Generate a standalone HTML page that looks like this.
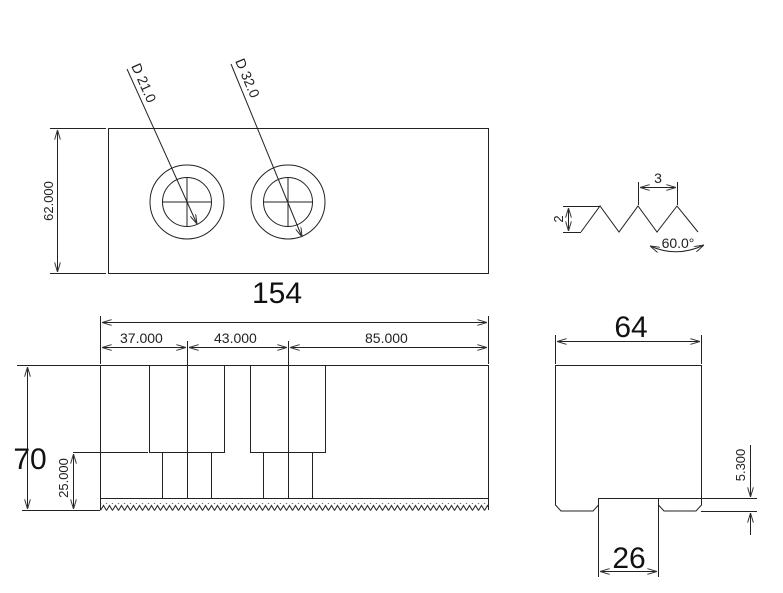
<!DOCTYPE html>
<html><head><meta charset="utf-8"><style>body{margin:0;background:#fff}svg{display:block}</style></head><body>
<svg width="783" height="593" viewBox="0 0 783 593" xmlns="http://www.w3.org/2000/svg" font-family="Liberation Sans, sans-serif">
<defs>
<marker id="a" viewBox="0 0 10 6" refX="10" refY="3" markerWidth="10" markerHeight="6" orient="auto-start-reverse" markerUnits="userSpaceOnUse"><path d="M0,0L10,3L0,6" fill="none" stroke="#333" stroke-width="1"/></marker>
<pattern id="t" x="100.5" y="504" width="6" height="7" patternUnits="userSpaceOnUse"><path d="M0,6.5 L3,1.5 L6,6.5" fill="none" stroke="#222" stroke-width="1"/></pattern>
</defs>
<rect x="100.5" y="503" width="388" height="8" fill="url(#t)"/>
<g stroke="#222" stroke-width="1" fill="none">
<!-- top view -->
<rect x="108.5" y="128.5" width="380" height="145"/>
<line x1="50" y1="128.5" x2="106" y2="128.5"/>
<line x1="50" y1="273.5" x2="106" y2="273.5"/>
<line x1="57.5" y1="130" x2="57.5" y2="272" marker-start="url(#a)" marker-end="url(#a)"/>
<circle cx="187" cy="202" r="37"/><circle cx="187" cy="202" r="24.5"/>
<line x1="162" y1="202" x2="212" y2="202"/><line x1="187" y1="177" x2="187" y2="227"/>
<circle cx="288" cy="202" r="37"/><circle cx="288" cy="202" r="24.5"/>
<line x1="263" y1="202" x2="313" y2="202"/><line x1="288" y1="177" x2="288" y2="227"/>
<line x1="127" y1="69" x2="197" y2="224" marker-end="url(#a)"/>
<line x1="231" y1="64" x2="302" y2="237" marker-end="url(#a)"/>
<!-- front view -->
<rect x="100.5" y="365.5" width="388" height="133"/>
<rect x="149.5" y="365.5" width="75" height="87"/>
<rect x="250.5" y="365.5" width="75" height="87"/>
<line x1="162.5" y1="452" x2="162.5" y2="498"/><line x1="211.5" y1="452" x2="211.5" y2="498"/>
<line x1="263.5" y1="452" x2="263.5" y2="498"/><line x1="312.5" y1="452" x2="312.5" y2="498"/>
<line x1="187.5" y1="341" x2="187.5" y2="498"/><line x1="288.5" y1="341" x2="288.5" y2="498"/>
<line x1="100.5" y1="498" x2="100.5" y2="510"/>
<line x1="488.5" y1="498" x2="488.5" y2="510"/>
<line x1="100.5" y1="316" x2="100.5" y2="364"/><line x1="488.5" y1="316" x2="488.5" y2="364"/>
<line x1="102" y1="322.5" x2="487" y2="322.5" marker-start="url(#a)" marker-end="url(#a)"/>
<line x1="102" y1="347.5" x2="186" y2="347.5" marker-start="url(#a)" marker-end="url(#a)"/>
<line x1="189" y1="347.5" x2="287" y2="347.5" marker-start="url(#a)" marker-end="url(#a)"/>
<line x1="290" y1="347.5" x2="487" y2="347.5" marker-start="url(#a)" marker-end="url(#a)"/>
<line x1="17" y1="365.5" x2="100" y2="365.5"/>
<line x1="22" y1="510.5" x2="100" y2="510.5"/>
<line x1="73" y1="452.5" x2="148" y2="452.5"/>
<line x1="27.5" y1="367" x2="27.5" y2="509" marker-start="url(#a)" marker-end="url(#a)"/>
<line x1="73.5" y1="454" x2="73.5" y2="509" marker-start="url(#a)" marker-end="url(#a)"/>
<!-- side view -->
<path d="M555.5,365.5 H701.5 V505 L696,511 H664 L658.5,505 V498.5 H598.5 V505 L593,511 H561 L555.5,505 Z"/>
<line x1="598.5" y1="498" x2="598.5" y2="577"/><line x1="658.5" y1="498" x2="658.5" y2="577"/>
<line x1="555.5" y1="335" x2="555.5" y2="364"/><line x1="701.5" y1="335" x2="701.5" y2="364"/>
<line x1="557" y1="341.5" x2="700" y2="341.5" marker-start="url(#a)" marker-end="url(#a)"/>
<line x1="600" y1="571.5" x2="657" y2="571.5" marker-start="url(#a)" marker-end="url(#a)"/>
<line x1="659" y1="498.5" x2="757" y2="498.5"/><line x1="701" y1="511.5" x2="757" y2="511.5"/>
<line x1="750.5" y1="445" x2="750.5" y2="497" marker-end="url(#a)"/>
<line x1="750.5" y1="535" x2="750.5" y2="513" marker-end="url(#a)"/>
<!-- thread -->
<polyline points="581,232 600,206 619,232 638,206 657,232 677,206 698,232"/>
<line x1="563" y1="206.5" x2="600" y2="206.5"/><line x1="563" y1="232.5" x2="581" y2="232.5"/>
<line x1="568.5" y1="208" x2="568.5" y2="231" marker-start="url(#a)" marker-end="url(#a)"/>
<line x1="638.5" y1="182" x2="638.5" y2="205"/><line x1="677.5" y1="182" x2="677.5" y2="205"/>
<line x1="640" y1="187.5" x2="676" y2="187.5" marker-start="url(#a)" marker-end="url(#a)"/>
<path d="M650,246 Q677,258 704,245" marker-start="url(#a)" marker-end="url(#a)"/>
</g>
<g fill="#222" font-size="14">
<text transform="translate(131,66) rotate(66)" font-size="14">D 21.0</text>
<text transform="translate(235,61) rotate(67)" font-size="14">D 32.0</text>
<text transform="translate(53,201) rotate(-90)" text-anchor="middle" font-size="13">62.000</text>
<text x="120" y="343" font-size="14">37.000</text>
<text x="214" y="343" font-size="14">43.000</text>
<text x="365" y="343" font-size="14">85.000</text>
<text transform="translate(68,478) rotate(-90)" text-anchor="middle" font-size="13">25.000</text>
<text transform="translate(745,465) rotate(-90)" text-anchor="middle" font-size="13">5.300</text>
<text transform="translate(563,219) rotate(-90)" font-size="13" text-anchor="middle">2</text>
<text x="658" y="183" font-size="14" text-anchor="middle">3</text>
<text x="678" y="248" font-size="14" text-anchor="middle">60.0°</text>
<text x="277" y="303" font-size="30" text-anchor="middle" fill="#111">154</text>
<text x="30" y="469" font-size="30" text-anchor="middle" fill="#111">70</text>
<text x="631" y="337" font-size="30" text-anchor="middle" fill="#111">64</text>
<text x="629" y="568" font-size="30" text-anchor="middle" fill="#111">26</text>
</g>
</svg>
</body></html>
